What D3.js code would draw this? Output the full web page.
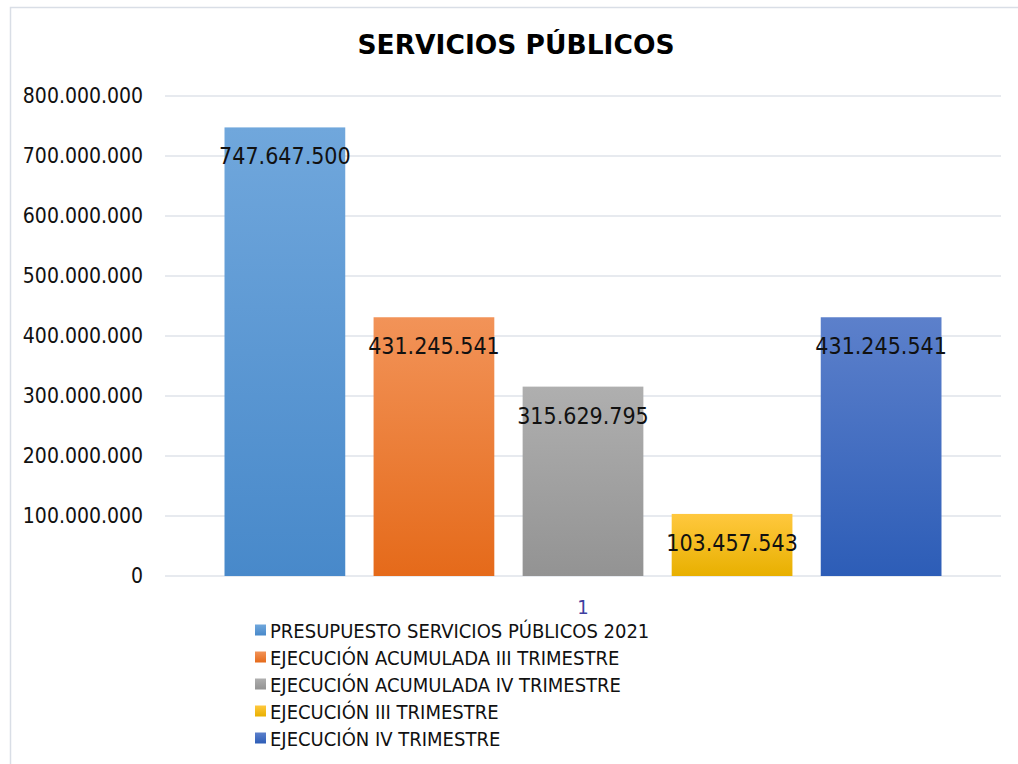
<!DOCTYPE html>
<html><head><meta charset="utf-8">
<script src="https://cdn.jsdelivr.net/npm/d3@7"></script>
<style>
html,body{margin:0;padding:0;background:#fff;}
svg text{font-family:"DejaVu Sans","Liberation Sans",sans-serif;font-stretch:condensed;}
</style></head>
<body>
<script>
const categories = ["1"];
const seriesNames = [
  "PRESUPUESTO SERVICIOS PÚBLICOS 2021",
  "EJECUCIÓN ACUMULADA III TRIMESTRE",
  "EJECUCIÓN ACUMULADA IV TRIMESTRE",
  "EJECUCIÓN III TRIMESTRE",
  "EJECUCIÓN IV TRIMESTRE"
];
const seriesValues = [747647500, 431245541, 315629795, 103457543, 431245541];
const yTicks = [0,100000000,200000000,300000000,400000000,500000000,600000000,700000000,800000000];
const title = "SERVICIOS PÚBLICOS";

const colorsTop = ["#70A7DC","#F29358","#AFAFAF","#FFC83E","#5C80CB"];
const colorsBot = ["#4889CA","#E56A1A","#939393","#E8B000","#2D5DB7"];

const W=1018,H=764;
const svg=d3.select("body").append("svg").attr("width",W).attr("height",H);
const defs=svg.append("defs");
seriesNames.forEach((s,i)=>{
  const g=defs.append("linearGradient").attr("id","g"+i).attr("x1",0).attr("y1",0).attr("x2",0).attr("y2",1);
  g.append("stop").attr("offset","0%").attr("stop-color",colorsTop[i]);
  g.append("stop").attr("offset","100%").attr("stop-color",colorsBot[i]);
});

// chart border
svg.append("path").attr("d","M10.5,"+H+"V7.5H"+W).attr("fill","none").attr("stroke","#D9DEE6").attr("stroke-width",1.5);

const pL=165,pR=1001,pT=96,pB=576;
const y=d3.scaleLinear().domain([0,800000000]).range([pB,pT]);
const x0=d3.scaleBand().domain(categories).range([pL,pR]).paddingInner(0).paddingOuter(0.083);
const x1=d3.scaleBand().domain(seriesNames).range([0,x0.bandwidth()]).paddingInner(0.19).paddingOuter(0);

const fmt=v=>d3.format(",")(v).replace(/,/g,".");

// gridlines
svg.append("g").selectAll("line").data(yTicks).join("line")
  .attr("x1",pL).attr("x2",pR).attr("y1",d=>y(d)).attr("y2",d=>y(d))
  .attr("stroke","#DFE3EA").attr("stroke-width",1.5);

// y axis
const yAxis=d3.axisLeft(y).tickValues(yTicks).tickFormat(fmt).tickSize(0).tickPadding(0);
const ya=svg.append("g").attr("transform","translate(143,0)").call(yAxis);
ya.select(".domain").remove();
ya.selectAll("text").attr("font-size",21).attr("fill","#111").style("font-family",'"DejaVu Sans","Liberation Sans",sans-serif').style("font-stretch","condensed");

// bars
const grp=svg.append("g").selectAll("g").data(categories).join("g").attr("transform",c=>`translate(${x0(c)},0)`);
grp.selectAll("rect").data(()=>seriesNames.map((s,i)=>({s,i,v:seriesValues[i]}))).join("rect")
  .attr("x",d=>x1(d.s)).attr("width",x1.bandwidth())
  .attr("y",d=>y(d.v)).attr("height",d=>y(0)-y(d.v))
  .attr("fill",d=>`url(#g${d.i})`);
grp.selectAll("text.lab").data(()=>seriesNames.map((s,i)=>({s,i,v:seriesValues[i]}))).join("text").attr("class","lab")
  .attr("x",d=>x1(d.s)+x1.bandwidth()/2).attr("y",d=>y(d.v)+37)
  .attr("text-anchor","middle").attr("font-size",23).attr("fill","#111").text(d=>fmt(d.v));

// x axis category label
const xAxis=d3.axisBottom(x0).tickSize(0).tickPadding(0);
const xa=svg.append("g").attr("transform",`translate(0,${pB+38})`).call(xAxis);
xa.select(".domain").remove();
xa.selectAll("text").attr("font-size",20).attr("fill","#3F3FA0").attr("dy",0).style("font-family",'"DejaVu Sans","Liberation Sans",sans-serif').style("font-stretch","condensed");

// title
svg.append("text").attr("x",516).attr("y",54).attr("text-anchor","middle")
  .attr("font-size",26.5).attr("font-weight","bold").attr("fill","#000").style("font-stretch","normal").text(title);

// legend
const leg=svg.append("g").selectAll("g").data(seriesNames).join("g")
  .attr("transform",(d,i)=>`translate(255,${630+i*27})`);
leg.append("rect").attr("x",0).attr("y",-5.5).attr("width",11).attr("height",11).attr("fill",(d,i)=>`url(#g${i})`);
leg.append("text").attr("x",15).attr("y",7.5).attr("font-size",20).attr("fill","#111").text(d=>d);
</script>
</body></html>
